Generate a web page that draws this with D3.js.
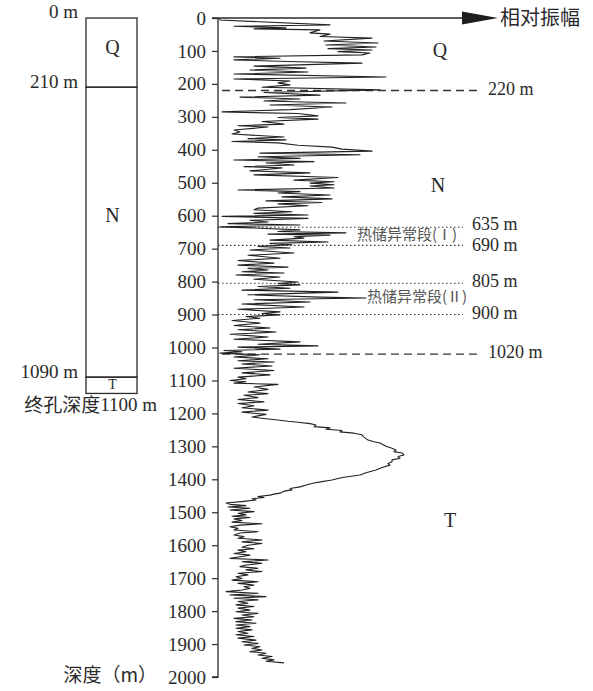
<!DOCTYPE html>
<html>
<head>
<meta charset="utf-8">
<script src="https://cdn.jsdelivr.net/npm/d3@7"></script>
<style>
  body { margin: 0; background: #fff; }
  text { font-family: "Liberation Serif", "Times New Roman", Tinos, Times, "DejaVu Serif", serif; fill: #2a2a2a; }
  .cjk { font-family: "Noto Sans CJK SC", sans-serif; }
</style>
</head>
<body>
<svg></svg>
<script>
// depth ticks (m)
let depthTicks = [0,100,200,300,400,500,600,700,800,900,1000,1100,1200,1300,1400,1500,1600,1700,1800,1900,2000];

// strata in the borehole column
let strata = [
	{ name: 'Q', top: 0, bottom: 210 },
	{ name: 'N', top: 210, bottom: 1090 },
	{ name: 'T', top: 1090, bottom: 1100 }
];
let columnLabels = [0, 210, 1090];

// marker lines on the log
let dashedMarks = [220, 1020];
let dottedMarks = [635, 690, 805, 900];
let zoneLabels = [
	{ text: '热储异常段(Ⅰ)', depth: 660 },
	{ text: '热储异常段(Ⅱ)', depth: 850 }
];
let layerLabels = [
	{ text: 'Q', depth: 105, amp: 111 },
	{ text: 'N', depth: 515, amp: 110 },
	{ text: 'T', depth: 1530, amp: 116 }
];

// relative amplitude trace, [depth m, amplitude]
let trace = [[0,1],[6,1],[21,56],[25,8],[30,34],[33,18],[36,51],[45,46],[49,56],[56,51],[61,77],[70,53],[76,80],[82,54],[88,79],[93,55],[97,77],[102,60],[106,76],[112,72],[118,8],[122,31],[127,8],[132,35],[137,72],[146,18],[152,44],[158,16],[164,45],[170,8],[179,84],[185,8],[191,36],[197,30],[203,36],[210,22],[218,81],[226,23],[234,51],[240,11],[246,41],[252,23],[258,64],[264,26],[270,57],[278,36],[285,2],[290,40],[297,50],[302,30],[307,50],[314,22],[322,33],[327,10],[331,25],[340,8],[346,11],[352,7],[361,33],[366,15],[370,34],[375,7],[379,30],[386,40],[392,57],[398,62],[404,77],[410,21],[415,71],[421,20],[426,41],[431,8],[436,48],[440,24],[446,38],[451,13],[455,32],[460,24],[464,16],[470,46],[476,18],[484,60],[492,38],[497,58],[501,46],[506,58],[510,46],[516,58],[522,10],[527,41],[531,30],[537,56],[543,32],[549,57],[555,24],[560,52],[564,30],[570,45],[577,20],[582,18],[588,37],[593,18],[598,45],[602,2],[608,45],[614,16],[619,25],[624,5],[628,41],[634,1],[637,17],[643,41],[648,30],[652,64],[656,25],[659,56],[664,38],[668,43],[674,26],[680,55],[684,26],[688,37],[693,20],[698,36],[704,16],[713,38],[720,15],[729,31],[736,10],[744,28],[750,10],[756,35],[760,15],[765,25],[770,12],[774,33],[780,9],[786,31],[793,18],[801,40],[806,30],[810,41],[815,20],[820,36],[826,12],[832,60],[840,15],[847,51],[850,74],[855,18],[862,46],[868,12],[877,43],[884,10],[892,31],[897,22],[901,31],[906,14],[911,21],[918,7],[926,21],[933,8],[941,26],[946,10],[953,29],[960,6],[968,25],[975,8],[983,41],[990,20],[995,50],[999,10],[1005,31],[1009,3],[1013,12],[1017,1],[1022,21],[1029,8],[1034,25],[1040,10],[1044,28],[1050,12],[1056,27],[1063,8],[1070,28],[1077,12],[1083,26],[1090,10],[1095,14],[1100,6],[1104,14],[1108,8],[1112,30],[1120,18],[1127,25],[1135,15],[1140,25],[1145,13],[1152,20],[1158,10],[1165,23],[1170,10],[1177,18],[1183,12],[1190,25],[1196,12],[1203,24],[1211,17],[1216,24],[1220,30],[1224,35],[1227,40],[1231,46],[1235,49],[1240,48],[1244,56],[1248,54],[1252,62],[1256,61],[1260,68],[1265,72],[1272,73],[1281,75],[1286,78],[1290,81],[1300,84],[1306,87],[1311,89],[1316,88],[1320,92],[1326,93],[1331,90],[1336,91],[1341,87],[1347,87],[1352,85],[1357,86],[1364,82],[1372,79],[1380,74],[1387,71],[1393,64],[1396,61],[1402,57],[1407,52],[1411,48],[1416,45],[1423,41],[1428,36],[1432,37],[1436,33],[1442,31],[1445,28],[1448,26],[1452,20],[1455,23],[1459,17],[1463,19],[1467,13],[1472,4],[1476,6],[1480,14],[1484,5],[1488,16],[1493,6],[1498,18],[1503,10],[1508,14],[1512,7],[1516,16],[1520,8],[1525,12],[1530,7],[1535,22],[1539,11],[1544,6],[1549,10],[1554,8],[1559,20],[1563,11],[1569,8],[1574,13],[1579,10],[1584,22],[1590,12],[1595,22],[1600,15],[1606,12],[1611,18],[1615,10],[1620,14],[1625,8],[1630,16],[1635,11],[1640,6],[1645,25],[1650,12],[1655,22],[1660,14],[1665,11],[1670,20],[1675,14],[1680,22],[1685,10],[1690,15],[1696,9],[1701,12],[1706,7],[1711,20],[1716,10],[1721,18],[1726,13],[1731,16],[1736,12],[1741,4],[1746,20],[1751,6],[1756,24],[1761,8],[1766,20],[1771,10],[1776,15],[1781,9],[1786,18],[1791,10],[1797,16],[1802,9],[1807,20],[1812,12],[1817,18],[1822,8],[1827,17],[1832,9],[1837,19],[1842,9],[1847,16],[1852,9],[1857,17],[1862,10],[1867,15],[1872,9],[1877,18],[1882,10],[1888,19],[1893,12],[1898,20],[1903,13],[1908,21],[1913,17],[1918,22],[1923,16],[1928,24],[1933,20],[1938,27],[1943,22],[1948,28],[1952,24],[1957,33]];

let width = 593;
let height = 691;
let serif = '"Liberation Serif", "Times New Roman", Tinos, Times, "DejaVu Serif", serif';

let svg = d3.select('svg')
	.attr('width', width)
	.attr('height', height);

let y = d3.scaleLinear().domain([0, 2000]).range([18, 677]);
let x = d3.scaleLinear().domain([0, 100]).range([218, 418]);

// borehole column
let colLeft = 86, colRight = 137;
let col = svg.append('g').attr('class', 'column');

col.selectAll('rect')
	.data(strata)
	.enter()
	.append('rect')
	.attr('x', colLeft)
	.attr('width', colRight - colLeft)
	.attr('y', d => y(d.top))
	// the thin T layer is drawn a bit taller, as in the figure
	.attr('height', d => d.name === 'T' ? y(d.bottom) - y(d.top) + 13 : y(d.bottom) - y(d.top))
	.attr('fill', 'none')
	.attr('stroke', '#2a2a2a')
	.attr('stroke-width', 1.3);

col.selectAll('.sname')
	.data(strata)
	.enter()
	.append('text')
	.attr('class', 'sname')
	.attr('x', (colLeft + colRight) / 2 + 1)
	.attr('y', d => d.name === 'T' ? y(d.top) + 9 : (d.name === 'Q' ? y(95) : y(605)))
	.attr('text-anchor', 'middle')
	.attr('dominant-baseline', 'middle')
	.style('font-size', d => d.name === 'T' ? '14px' : '20px')
	.text(d => d.name);

col.selectAll('.clabel')
	.data(columnLabels)
	.enter()
	.append('text')
	.attr('class', 'clabel')
	.attr('x', 78)
	.attr('y', d => y(d) - 4)
	.attr('text-anchor', 'end')
	.attr('dominant-baseline', 'middle')
	.style('font-size', '19px')
	.text(d => d + ' m');

let endLabel = col.append('text')
	.attr('x', 157)
	.attr('y', 407)
	.attr('text-anchor', 'end')
	.attr('dominant-baseline', 'middle')
	.style('font-size', '19px');
endLabel.append('tspan').attr('class', 'cjk').text('终孔深度');
endLabel.append('tspan').text('1100 m');

// depth axis
let axis = svg.append('g')
	.attr('transform', 'translate(218,0)')
	.attr('font-family', null)
	.call(d3.axisLeft(y).tickValues(depthTicks).tickSize(6).tickPadding(6).tickFormat(d3.format('d')));
axis.attr('font-family', serif);
axis.select('.domain').attr('stroke', '#2a2a2a').attr('stroke-width', 1.3).attr('d', 'M0,' + y(0) + 'V' + y(2000) + 'H-6');
axis.selectAll('.tick line').attr('stroke', '#2a2a2a').attr('stroke-width', 1.2);
axis.selectAll('.tick text')
	.style('font-size', '19px')
	.style('font-family', serif)
	.attr('fill', '#2a2a2a');

// amplitude axis with arrow
svg.append('line')
	.attr('x1', 212).attr('x2', 470)
	.attr('y1', y(0)).attr('y2', y(0))
	.attr('stroke', '#2a2a2a')
	.attr('stroke-width', 1.4);
svg.append('path')
	.attr('d', 'M462,' + (y(0) - 6.5) + 'L498,' + y(0) + 'L462,' + (y(0) + 6.5) + 'Z')
	.attr('fill', '#1e1e1e');
svg.append('text')
	.attr('class', 'cjk')
	.attr('x', 500)
	.attr('y', y(0) + 2)
	.attr('dominant-baseline', 'middle')
	.style('font-size', '20px')
	.text('相对振幅');

// marker lines
svg.selectAll('.dashed')
	.data(dashedMarks)
	.enter()
	.append('line')
	.attr('class', 'dashed')
	.attr('x1', 222).attr('x2', 478)
	.attr('y1', d => y(d)).attr('y2', d => y(d))
	.attr('stroke', '#333')
	.attr('stroke-width', 1.3)
	.attr('stroke-dasharray', '8,5');

svg.selectAll('.dotted')
	.data(dottedMarks)
	.enter()
	.append('line')
	.attr('class', 'dotted')
	.attr('x1', 218).attr('x2', 463)
	.attr('y1', d => y(d)).attr('y2', d => y(d))
	.attr('stroke', '#333')
	.attr('stroke-width', 1.1)
	.attr('stroke-dasharray', '1.5,2.5');

svg.selectAll('.mlabel')
	.data(dashedMarks.concat(dottedMarks))
	.enter()
	.append('text')
	.attr('class', 'mlabel')
	.attr('x', d => dashedMarks.includes(d) ? 488 : 472)
	.attr('y', d => y(d) + (d === 635 ? -1.5 : d === 690 ? 1.5 : 0))
	.attr('dominant-baseline', 'middle')
	.style('font-size', '18px')
	.text(d => d + ' m');

svg.selectAll('.zone')
	.data(zoneLabels)
	.enter()
	.append('text')
	.attr('class', 'zone cjk')
	.attr('x', (d, i) => i === 0 ? 357 : 367)
	.attr('y', d => y(d.depth))
	.attr('dominant-baseline', 'middle')
	.style('font-size', '15px')
	.style('fill', '#555')
	.text(d => d.text);

svg.selectAll('.layer')
	.data(layerLabels)
	.enter()
	.append('text')
	.attr('class', 'layer')
	.attr('x', d => x(d.amp))
	.attr('y', d => y(d.depth))
	.attr('text-anchor', 'middle')
	.attr('dominant-baseline', 'middle')
	.style('font-size', '20px')
	.text(d => d.text);

// the log trace
let line = d3.line()
	.x(d => x(d[1]))
	.y(d => y(d[0]));

svg.append('path')
	.datum(trace)
	.attr('d', line)
	.attr('fill', 'none')
	.attr('stroke', '#222')
	.attr('stroke-width', 1.1)
	.attr('stroke-linejoin', 'round');

// axis title
svg.append('text')
	.attr('class', 'cjk')
	.attr('x', 157)
	.attr('y', y(2000))
	.attr('text-anchor', 'end')
	.attr('dominant-baseline', 'middle')
	.style('font-size', '19px')
	.text('深度（m）');
</script>
</body>
</html>
